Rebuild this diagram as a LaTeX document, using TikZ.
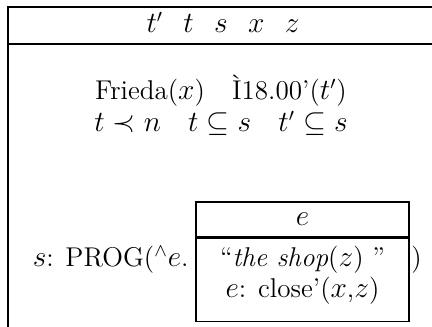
\documentclass[tikz,border=0pt]{standalone}
\usepackage{amsmath,amssymb}
\usepackage{tikz}
\usetikzlibrary{positioning}

\begin{document}
\begin{tikzpicture}[
  x=0.49pt, y=-0.49pt,
  node distance=0pt,
  every node/.style={font=\fontsize{13.3}{16}\selectfont},
  rule/.style={line width=0.7pt},
  word/.style={inner sep=0pt, anchor=base},
  subhead/.style={draw, line width=0.6pt, minimum width=104.4pt,
    minimum height=17.2pt, inner sep=0pt},
  subbody/.style={draw, line width=0.6pt, minimum width=104.4pt,
    minimum height=40.6pt, inner sep=0pt},
]
\useasboundingbox (0,0) rectangle (432,327);
\clip (0,0) rectangle (432,327);
% Outer box (runs off the page)
\draw[rule] (440,7) -- (8,7) -- (8,340);
\draw[rule] (8,44) -- (440,44);
% Universe
\node[word] (univ) at (223,33)
  {$t'\hspace{0.75em}t\hspace{0.75em}s\hspace{0.75em}x\hspace{0.75em}z$};
% Conditions
\node[word] (cond1) at (221,100) {Frieda($x$)\quad \`I18.00'($t'$)};
\node[word] (cond2) at (221,132) {$t \prec n\quad t \subseteq s\quad t' \subseteq s$};
% Embedded box
\node[word, anchor=base east] (prog) at (189,267) {$s$: PROG($^\wedge e$.};
\node[subhead] (ehead) at (302.5,219.5) {$e$};
\node[subbody, below=of ehead] (ebody) {};
\node[word] (shop) at (302.5,267) {``\textit{the shop}($z$)\ ''};
\node[word] (close) at (302.5,298) {$e$: close'($x$,$z$)};
\node[word, anchor=base west] (closer) at (411,267) {)};
\end{tikzpicture}
\end{document}
